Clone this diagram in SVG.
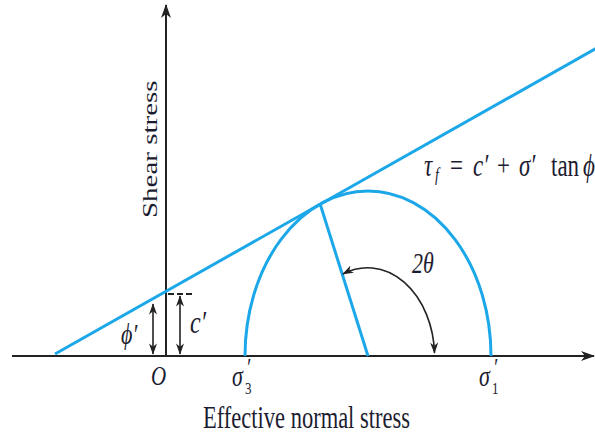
<svg xmlns="http://www.w3.org/2000/svg" width="595" height="436" viewBox="0 0 595 436">
<style>
.ax{stroke:#222;stroke-width:2;fill:none}
.bl{stroke:#1ca8e8;stroke-width:3;fill:none}
.ar{stroke:#222;stroke-width:1.6;fill:none}
.t{font-family:"Liberation Serif","Times New Roman",serif;fill:#1c1c30}
.i{font-style:italic}
</style>
<defs>
<marker id="ah" viewBox="0 0 14 10" refX="13" refY="5" markerWidth="14" markerHeight="10" markerUnits="userSpaceOnUse" orient="auto-start-reverse">
<path d="M0,0 L14,5 L0,10 L4,5 Z" fill="#222"/>
</marker>
<marker id="ah2" viewBox="0 0 14 10" refX="13" refY="5" markerWidth="12" markerHeight="8" markerUnits="userSpaceOnUse" orient="auto-start-reverse">
<path d="M0,0 L14,5 L0,10 L4,5 Z" fill="#222"/>
</marker>
</defs>
<rect width="595" height="436" fill="#fff"/>
<g id="axes">
<line class="ax" x1="12" y1="356" x2="594" y2="356" marker-end="url(#ah)"/>
<line class="ax" x1="166" y1="356" x2="166" y2="5" marker-end="url(#ah)"/>
</g>
<g id="envelope">
<line class="bl" x1="55" y1="354" x2="600" y2="46.2"/>
</g>
<g id="mohr-circle">
<path class="bl" d="M245,356 A123,165 0 0 1 491,356"/>
<line class="bl" x1="320.2" y1="204.2" x2="368" y2="356"/>
</g>
<g id="connectors">
<line x1="168" y1="294" x2="195" y2="294" stroke="#222" stroke-width="2" stroke-dasharray="6,3"/>
<line class="ar" x1="180" y1="296" x2="180" y2="354" marker-start="url(#ah2)" marker-end="url(#ah2)"/>
<line class="ar" x1="153" y1="304" x2="153" y2="354" marker-start="url(#ah2)" marker-end="url(#ah2)"/>
<path class="ar" d="M343,274 A67,89 0 0 1 434.5,353" marker-start="url(#ah2)" marker-end="url(#ah2)"/>
</g>
<g id="labels">
<text class="t" transform="translate(157,218) rotate(-90) scale(1.38,1)" font-size="21">Shear stress</text>
<text class="t" transform="translate(203,428) scale(1,1.38)" font-size="22.5">Effective normal stress</text>
<text class="t i" transform="translate(151,385) scale(1,1.3)" font-size="21">O</text>
<text class="t i" transform="translate(121,344) scale(1,1.35)" font-size="22">ϕ′</text>
<text class="t i" transform="translate(190,333) scale(1,1.35)" font-size="24">c′</text>
<text class="t i" transform="translate(412,273) scale(1,1.35)" font-size="22">2θ</text>
<g id="sigma3">
<text class="t i" transform="translate(232,386) scale(1,1.35)" font-size="22">σ</text>
<text class="t" transform="translate(245,394) scale(1,1.3)" font-size="13">3</text>
<text class="t i" transform="translate(246,376) scale(1,1.3)" font-size="19">′</text>
</g>
<g id="sigma1">
<text class="t i" transform="translate(479,386) scale(1,1.35)" font-size="22">σ</text>
<text class="t" transform="translate(492,394) scale(1,1.3)" font-size="13">1</text>
<text class="t i" transform="translate(493,376) scale(1,1.3)" font-size="19">′</text>
</g>
<g id="formula">
<text class="t i" transform="translate(424,176) scale(1,1.35)" font-size="23">τ</text>
<text class="t i" transform="translate(435,181) scale(1,1.35)" font-size="14">f</text>
<text class="t" transform="translate(450,176) scale(1,1.35)" font-size="23">=</text>
<text class="t i" transform="translate(473,176) scale(1,1.35)" font-size="23">c′</text>
<text class="t" transform="translate(497,176) scale(1,1.35)" font-size="23">+</text>
<text class="t i" transform="translate(519,176) scale(1,1.35)" font-size="23">σ′</text>
<text class="t" transform="translate(551,176) scale(1,1.35)" font-size="23">tan</text>
<text class="t i" transform="translate(583,176) scale(1,1.35)" font-size="23">ϕ</text>
</g>
</g>
</svg>
